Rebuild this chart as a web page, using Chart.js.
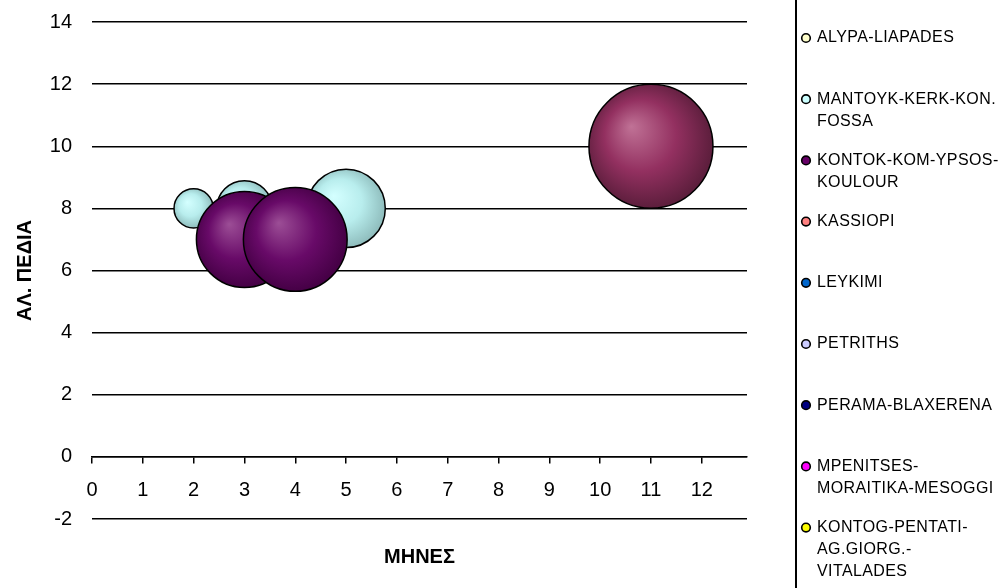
<!DOCTYPE html>
<html>
<head>
<meta charset="utf-8">
<script src="https://cdn.jsdelivr.net/npm/chart.js@4.4.1/dist/chart.umd.min.js"></script>
<style>
html,body{margin:0;padding:0;background:#ffffff;}
canvas{display:block;}
</style>
</head>
<body>
<canvas id="c" width="998" height="588"></canvas>
<script>
// ---- data ----
const seriesNames = [
  "ALYPA-LIAPADES",
  "MANTOYK-KERK-KON. FOSSA",
  "KONTOK-KOM-YPSOS-KOULOUR",
  "KASSIOPI",
  "LEYKIMI",
  "PETRITHS",
  "PERAMA-BLAXERENA",
  "MPENITSES-MORAITIKA-MESOGGI",
  "KONTOG-PENTATI-AG.GIORG.-VITALADES"
];
const legendLines = [
  ["ALYPA-LIAPADES"],
  ["MANTOYK-KERK-KON.", "FOSSA"],
  ["KONTOK-KOM-YPSOS-", "KOULOUR"],
  ["KASSIOPI"],
  ["LEYKIMI"],
  ["PETRITHS"],
  ["PERAMA-BLAXERENA"],
  ["MPENITSES-", "MORAITIKA-MESOGGI"],
  ["KONTOG-PENTATI-", "AG.GIORG.-", "VITALADES"]
];
const seriesColors = ["#FFFFCC", "#CCFFFF", "#660066", "#FF8080", "#0066CC", "#CCCCFF", "#000080", "#FF00FF", "#FFFF00"];

// months (x), fields (y), bubble size
const mantoykMonths = [2, 3, 5];
const mantoykFields = [8, 8, 8];
const mantoykSize   = [1, 2, 4];

const kontokMonths = [3, 4];
const kontokFields = [7, 7];
const kontokSize   = [6, 7];

const extraMonths = [11];
const extraFields = [10];
const extraSize   = [10];

const xTickValues = [0,1,2,3,4,5,6,7,8,9,10,11,12];
const yTickValues = [-2,0,2,4,6,8,10,12,14];

// ---- build ----
const MAX_R = 62, MAX_SIZE = 10;
function pts(xs, ys, ss) {
  return xs.map((x, i) => ({ x: x, y: ys[i], r: MAX_R * Math.sqrt(ss[i] / MAX_SIZE) }));
}
function sphere(base, light, dark) {
  return function (ctx) {
    const chart = ctx.chart;
    if (ctx.type !== 'data' || !chart.scales || !chart.scales.x || !chart.scales.y) return base;
    const raw = ctx.raw;
    const cx = chart.scales.x.getPixelForValue(raw.x);
    const cy = chart.scales.y.getPixelForValue(raw.y);
    const r = raw.r;
    if (!isFinite(cx) || !isFinite(cy) || !isFinite(r)) return base;
    const g = chart.ctx.createRadialGradient(cx - 0.32 * r, cy - 0.32 * r, 0, cx - 0.05 * r, cy - 0.05 * r, r * 1.05);
    g.addColorStop(0, light);
    g.addColorStop(0.55, base);
    g.addColorStop(1, dark);
    return g;
  };
}

const dataMap = {
  1: pts(mantoykMonths, mantoykFields, mantoykSize),
  2: pts(kontokMonths, kontokFields, kontokSize)
};
const grad = {
  1: sphere("#B8EDED", "#D4FFFF", "#8FBDBD"),
  2: sphere("#680A68", "#9C4E96", "#450045")
};

const datasets = seriesNames.map((name, i) => ({
  label: name,
  data: dataMap[i] || [],
  backgroundColor: grad[i] || seriesColors[i],
  borderColor: "#000000",
  borderWidth: 1.5,
  hoverBorderWidth: 1.5,
  order: i === 1 ? 5 : 2
}));
datasets.push({
  label: "",
  data: pts(extraMonths, extraFields, extraSize),
  backgroundColor: sphere("#933060", "#C07296", "#5C1E3C"),
  borderColor: "#000000",
  borderWidth: 1.5,
  order: 3
});

const legendPlugin = {
  id: 'sideLegend',
  afterDraw(chart) {
    const c = chart.ctx;
    c.save();
    c.strokeStyle = '#000';
    c.lineWidth = 2;
    c.beginPath(); c.moveTo(796, 0); c.lineTo(796, 588); c.stroke();
    c.font = '16px "Liberation Sans", Arial, sans-serif';
    try { c.letterSpacing = '0.4px'; } catch (e) {}
    c.textBaseline = 'middle';
    c.textAlign = 'left';
    legendLines.forEach((lines, i) => {
      const y = 38 + i * 61.2;
      c.beginPath();
      c.arc(806, y, 4.3, 0, Math.PI * 2);
      c.fillStyle = seriesColors[i];
      c.fill();
      c.lineWidth = 1.6;
      c.strokeStyle = '#000';
      c.stroke();
      c.fillStyle = '#000';
      lines.forEach((t, j) => c.fillText(t, 817, y + j * 22));
    });
    c.restore();
  }
};

function zeroPad(s) { s.paddingTop = 0; s.paddingBottom = 0; s.paddingLeft = 0; s.paddingRight = 0; }

new Chart(document.getElementById('c'), {
  type: 'bubble',
  data: { datasets: datasets },
  plugins: [legendPlugin],
  options: {
    responsive: false,
    animation: false,
    devicePixelRatio: 1,
    layout: { autoPadding: false, padding: { left: 0, right: 251, top: 22, bottom: 0 } },
    plugins: { legend: { display: false }, tooltip: { enabled: false } },
    scales: {
      y: {
        type: 'linear',
        position: 'left',
        min: -2, max: 14,
        afterBuildTicks: (s) => { s.ticks = yTickValues.map(v => ({ value: v })); },
        afterFit: (s) => { s.width = 92; zeroPad(s); },
        ticks: { color: '#000', padding: 20, font: { family: '"Liberation Sans", Arial, sans-serif', size: 20 } },
        grid: { color: '#000', lineWidth: 1.5, drawTicks: false },
        border: { display: false },
        title: { display: true, text: 'ΑΛ. ΠΕΔΙΑ', color: '#000', padding: { top: 13, bottom: 0 },
                 font: { family: '"Liberation Sans", Arial, sans-serif', size: 20, weight: 'bold' } }
      },
      x: {
        type: 'linear',
        position: { y: 0 },
        min: 0, max: 12.89,
        afterBuildTicks: (s) => { s.ticks = xTickValues.map(v => ({ value: v })); },
        afterFit: (s) => { s.height = 0; zeroPad(s); },
        ticks: { color: '#000', padding: 16, maxRotation: 0, autoSkip: false,
                 font: { family: '"Liberation Sans", Arial, sans-serif', size: 20 } },
        grid: { drawOnChartArea: false, drawTicks: true, tickLength: 6, color: '#000', lineWidth: 1.5 },
        border: { display: true, color: '#000', width: 1.5 }
      },
      x2: {
        type: 'linear',
        position: 'bottom',
        min: 0, max: 12.89,
        afterFit: (s) => { s.height = 69; zeroPad(s); },
        ticks: { display: false },
        grid: { display: false, drawTicks: false },
        border: { display: false },
        title: { display: true, text: 'ΜΗΝΕΣ', color: '#000', padding: { top: 0, bottom: 19 },
                 font: { family: '"Liberation Sans", Arial, sans-serif', size: 20, weight: 'bold' } }
      }
    }
  }
});
</script>
</body>
</html>
